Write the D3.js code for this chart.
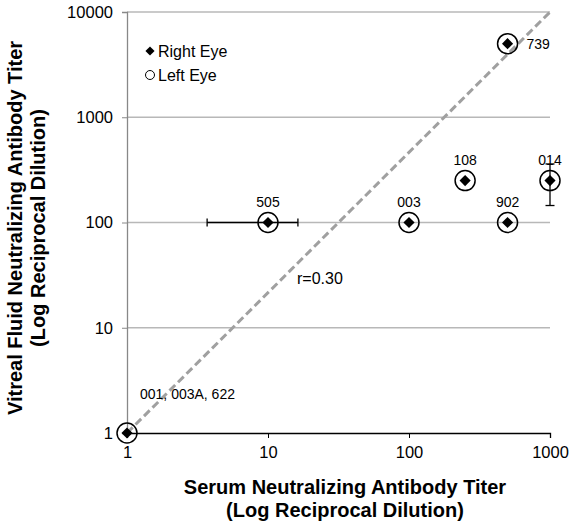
<!DOCTYPE html>
<html>
<head>
<meta charset="utf-8">
<script src="https://cdn.jsdelivr.net/npm/d3@7.9.0/dist/d3.min.js"></script>
<style>
  body { margin: 0; background: #fff; }
  svg { display: block; font-family: Arial, "Liberation Sans", sans-serif; }
</style>
</head>
<body>
<svg width="571" height="522"></svg>
<script>
// data
const subjects = ["001, 003A, 622", "505", "003", "902", "108", "014", "739"];
const serumTiter = [1, 10, 100, 500, 250, 1000, 500];
const vitrealTiter = [1, 100, 100, 100, 250, 250, 5000];
const serumLow = [null, 3.7, null, null, null, null, null];
const serumHigh = [null, 16.3, null, null, null, null, null];
const vitrealLow = [null, null, null, null, null, 145, null];
const vitrealHigh = [null, null, null, null, null, 360, null];
const xTicks = [1, 10, 100, 1000];
const yTicks = [1, 10, 100, 1000, 10000];
const corrLabel = "r=0.30";

const svg = d3.select('svg');
const margin = { top: 12, right: 21, bottom: 89, left: 127 };
const W = 571, H = 522;
const FONT = 'Arial, "Liberation Sans", sans-serif';

const x = d3.scaleLog().domain([1, 1000]).range([margin.left, W - margin.right]);
const y = d3.scaleLog().domain([1, 10000]).range([H - margin.bottom, margin.top]);

// gridlines
svg.append('g').selectAll('line')
  .data(yTicks.slice(1))
  .join('line')
  .attr('x1', x(1)).attr('x2', x(1000))
  .attr('y1', d => y(d)).attr('y2', d => y(d))
  .attr('stroke', '#b8b8b8').attr('stroke-width', 1.3);

// y axis
const yAxis = svg.append('g')
  .attr('transform', `translate(${x(1)},0)`)
  .call(d3.axisLeft(y).tickValues(yTicks).tickFormat(d3.format('d')).tickSize(5).tickPadding(9));
yAxis.select('.domain').attr('stroke', '#888').attr('stroke-width', 1.3);
yAxis.selectAll('.tick line').attr('stroke', '#888');
yAxis.selectAll('text').attr('font-size', 16.5).attr('fill', '#000').attr('font-family', FONT);

// x axis
const xAxis = svg.append('g')
  .attr('transform', `translate(0,${y(1)})`)
  .call(d3.axisBottom(x).tickValues(xTicks).tickFormat(d3.format('d')).tickSize(5).tickPadding(8));
xAxis.select('.domain').attr('stroke', '#000').attr('stroke-width', 1.3);
xAxis.selectAll('.tick line').attr('stroke', '#000');
xAxis.selectAll('text').attr('font-size', 16.5).attr('fill', '#000').attr('font-family', FONT);

// diagonal reference line
svg.append('line')
  .attr('x1', x(1)).attr('y1', y(1))
  .attr('x2', x(1000)).attr('y2', y(10000))
  .attr('stroke', '#a0a0a0').attr('stroke-width', 3)
  .attr('stroke-dasharray', '8,4');

svg.append('text')
  .attr('x', 297).attr('y', 284)
  .attr('font-size', 16).text(corrLabel);

// error bars
const errG = svg.append('g').attr('stroke', '#000').attr('stroke-width', 1.3);
subjects.forEach((s, i) => {
  if (serumLow[i] != null) {
    const cy = y(vitrealTiter[i]);
    errG.append('line').attr('x1', x(serumLow[i])).attr('x2', x(serumHigh[i])).attr('y1', cy).attr('y2', cy);
    [serumLow[i], serumHigh[i]].forEach(v => {
      errG.append('line').attr('x1', x(v)).attr('x2', x(v)).attr('y1', cy - 4).attr('y2', cy + 4);
    });
  }
  if (vitrealLow[i] != null) {
    const cx = x(serumTiter[i]);
    errG.append('line').attr('x1', cx).attr('x2', cx).attr('y1', y(vitrealLow[i])).attr('y2', y(vitrealHigh[i]));
    [vitrealLow[i], vitrealHigh[i]].forEach(v => {
      errG.append('line').attr('x1', cx - 4.5).attr('x2', cx + 4.5).attr('y1', y(v)).attr('y2', y(v));
    });
  }
});

// points: left eye circle, right eye diamond
const diamond = d3.symbol().type(d3.symbolSquare).size(62);
const pts = svg.append('g').selectAll('g')
  .data(subjects)
  .join('g')
  .attr('transform', (d, i) => `translate(${x(serumTiter[i])},${y(vitrealTiter[i])})`);
pts.append('circle').attr('r', 10).attr('fill', '#fff').attr('fill-opacity', 0.001)
  .attr('stroke', '#000').attr('stroke-width', 1.5);
pts.append('path').attr('d', diamond).attr('transform', 'rotate(45)').attr('fill', '#000');

// point labels
subjects.forEach((s, i) => {
  const px = x(serumTiter[i]), py = y(vitrealTiter[i]);
  const t = svg.append('text').attr('font-size', 14).text(s);
  if (s === '739') {
    t.attr('x', px + 19).attr('y', py + 5);
  } else if (i === 0) {
    t.attr('x', px + 13).attr('y', py - 34);
  } else {
    t.attr('x', px).attr('y', py - 16).attr('text-anchor', 'middle');
  }
});

// legend
const leg = svg.append('g');
leg.append('path').attr('d', d3.symbol().type(d3.symbolSquare).size(42))
  .attr('transform', `translate(150,51) rotate(45)`).attr('fill', '#000');
leg.append('text').attr('x', 158).attr('y', 57).attr('font-size', 16).text('Right Eye');
leg.append('circle').attr('cx', 150).attr('cy', 75).attr('r', 4.5)
  .attr('fill', 'none').attr('stroke', '#000').attr('stroke-width', 1);
leg.append('text').attr('x', 158).attr('y', 81).attr('font-size', 16).text('Left Eye');

// axis titles
svg.append('text').attr('x', 345).attr('y', 494).attr('text-anchor', 'middle')
  .attr('font-size', 20).attr('font-weight', 'bold').text('Serum Neutralizing Antibody Titer');
svg.append('text').attr('x', 345).attr('y', 517).attr('text-anchor', 'middle')
  .attr('font-size', 20).attr('font-weight', 'bold').text('(Log Reciprocal Dilution)');
const yt = svg.append('g').attr('transform', 'translate(0,228) rotate(-90)');
yt.append('text').attr('x', 0).attr('y', 22).attr('text-anchor', 'middle')
  .attr('font-size', 20).attr('font-weight', 'bold').text('Vitreal Fluid Neutralizing Antibody Titer');
yt.append('text').attr('x', 0).attr('y', 45).attr('text-anchor', 'middle')
  .attr('font-size', 20).attr('font-weight', 'bold').text('(Log Reciprocal Dilution)');
</script>
</body>
</html>
